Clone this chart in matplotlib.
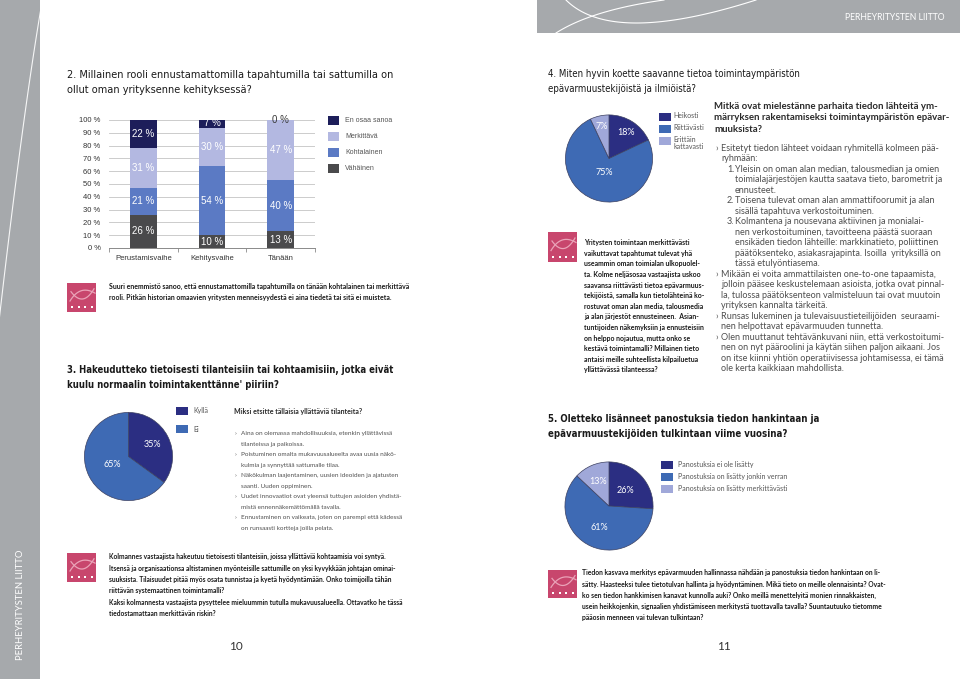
import matplotlib
matplotlib.use('Agg')
import matplotlib.pyplot as plt
from matplotlib import font_manager as fm
from matplotlib.patches import Rectangle
from matplotlib.lines import Line2D
import numpy as np

# ---------------- data ----------------
stages = ['Perustamisvaihe', 'Kehitysvaihe', 'Tänään']
series_names = ['Vähäinen', 'Kohtalainen', 'Merkittävä', 'En osaa sanoa']
vahainen = [26, 10, 13]
kohtalainen = [21, 54, 40]
merkittava = [31, 30, 47]
en_osaa = [22, 7, 0]
y_ticks = [0, 10, 20, 30, 40, 50, 60, 70, 80, 90, 100]

q3_labels = ['Kyllä', 'Ei']
q3_values = [35, 65]

q4_labels = ['Heikosti', 'Riittävästi', 'Erittäin\nkattavasti']
q4_values = [18, 75, 7]

q5_labels = ['Panostuksia ei ole lisätty', 'Panostuksia on lisätty jonkin verran',
             'Panostuksia on lisätty merkittävästi']
q5_values = [26, 61, 13]

# ---------------- texts ----------------
h2 = ['2. Millainen rooli ennustamattomilla tapahtumilla tai sattumilla on',
      'ollut oman yrityksenne kehityksessä?']
cap1 = ['Suuri enemmistö sanoo, että ennustamattomilla tapahtumilla on tänään kohtalainen tai merkittävä',
        'rooli. Pitkän historian omaavien yritysten menneisyydestä ei aina tiedetä tai sitä ei muisteta.']
h3 = ['3. Hakeudutteko tietoisesti tilanteisiin tai kohtaamisiin, jotka eivät',
      "kuulu normaalin toimintakenttänne' piiriin?"]
q3_question = 'Miksi etsitte tällaisia yllättäviä tilanteita?'
q3_bullets = [('›', 'Aina on olemassa mahdollisuuksia, etenkin yllättävissä'),
              ('', 'tilanteissa ja paikoissa.'),
              ('›', 'Poistuminen omalta mukavuusalueelta avaa uusia näkö-'),
              ('', 'kulmia ja synnyttää sattumalle tilaa.'),
              ('›', 'Näkökulman laajentaminen, uusien ideoiden ja ajatusten'),
              ('', 'saanti. Uuden oppiminen.'),
              ('›', 'Uudet innovaatiot ovat yleensä tuttujen asioiden yhdistä-'),
              ('', 'mistä ennennäkemättömällä tavalla.'),
              ('›', 'Ennustaminen on vaikeata, joten on parempi että kädessä'),
              ('', 'on runsaasti kortteja joilla pelata.')]
cap2 = ['Kolmannes vastaajista hakeutuu tietoisesti tilanteisiin, joissa yllättäviä kohtaamisia voi syntyä.',
        'Itsensä ja organisaationsa altistaminen myönteisille sattumille on yksi kyvykkään johtajan ominai-',
        'suuksista. Tilaisuudet pitää myös osata tunnistaa ja kyetä hyödyntämään. Onko toimijoilla tähän',
        'riittävän systemaattinen toimintamalli?',
        'Kaksi kolmannesta vastaajista pysyttelee mieluummin tutulla mukavuusalueella. Ottavatko he tässä',
        'tiedostamattaan merkittävän riskin?']
h4 = ['4. Miten hyvin koette saavanne tietoa toimintaympäristön',
      'epävarmuustekijöistä ja ilmiöistä?']
q4_question = ['Mitkä ovat mielestänne parhaita tiedon lähteitä ym-',
               'märryksen rakentamiseksi toimintaympäristön epävar-',
               'muuksista?']
q4_bullets = [('b', '›', 'Esitetyt tiedon lähteet voidaan ryhmitellä kolmeen pää-'),
              ('c', '', 'ryhmään:'),
              ('n', '1.', 'Yleisin on oman alan median, talousmedian ja omien'),
              ('nc', '', 'toimialajärjestöjen kautta saatava tieto, barometrit ja'),
              ('nc', '', 'ennusteet.'),
              ('n', '2.', 'Toisena tulevat oman alan ammattifoorumit ja alan'),
              ('nc', '', 'sisällä tapahtuva verkostoituminen.'),
              ('n', '3.', 'Kolmantena ja nousevana aktiivinen ja monialai-'),
              ('nc', '', 'nen verkostoituminen, tavoitteena päästä suoraan'),
              ('nc', '', 'ensikäden tiedon lähteille: markkinatieto, poliittinen'),
              ('nc', '', 'päätöksenteko, asiakasrajapinta. Isoilla  yrityksillä on'),
              ('nc', '', 'tässä etulyöntiasema.'),
              ('b', '›', 'Mikään ei voita ammattilaisten one-to-one tapaamista,'),
              ('c', '', 'jolloin pääsee keskustelemaan asioista, jotka ovat pinnal-'),
              ('c', '', 'la, tulossa päätöksenteon valmisteluun tai ovat muutoin'),
              ('c', '', 'yrityksen kannalta tärkeitä.'),
              ('b', '›', 'Runsas lukeminen ja tulevaisuustieteilijöiden  seuraami-'),
              ('c', '', 'nen helpottavat epävarmuuden tunnetta.'),
              ('b', '›', 'Olen muuttanut tehtävänkuvani niin, että verkostoitumi-'),
              ('c', '', 'nen on nyt pääroolini ja käytän siihen paljon aikaani. Jos'),
              ('c', '', 'on itse kiinni yhtiön operatiivisessa johtamisessa, ei tämä'),
              ('c', '', 'ole kerta kaikkiaan mahdollista.')]
cap3 = ['Yritysten toimintaan merkittävästi',
        'vaikuttavat tapahtumat tulevat yhä',
        'useammin oman toimialan ulkopuolel-',
        'ta. Kolme neljäsosaa vastaajista uskoo',
        'saavansa riittävästi tietoa epävarmuus-',
        'tekijöistä, samalla kun tietolähteinä ko-',
        'rostuvat oman alan media, talousmedia',
        'ja alan järjestöt ennusteineen.  Asian-',
        'tuntijoiden näkemyksiin ja ennusteisiin',
        'on helppo nojautua, mutta onko se',
        'kestävä toimintamalli? Millainen tieto',
        'antaisi meille suhteellista kilpailuetua',
        'yllättävässä tilanteessa?']
h5 = ['5. Oletteko lisänneet panostuksia tiedon hankintaan ja',
      'epävarmuustekijöiden tulkintaan viime vuosina?']
cap4 = ['Tiedon kasvava merkitys epävarmuuden hallinnassa nähdään ja panostuksia tiedon hankintaan on li-',
        'sätty. Haasteeksi tulee tietotulvan hallinta ja hyödyntäminen. Mikä tieto on meille olennaisinta? Ovat-',
        'ko sen tiedon hankkimisen kanavat kunnolla auki? Onko meillä menettelyitä monien rinnakkaisten,',
        'usein heikkojenkin, signaalien yhdistämiseen merkitystä tuottavalla tavalla? Suuntautuuko tietomme',
        'pääosin menneen vai tulevan tulkintaan?']

# ---------------- fonts ----------------
names = {f.name for f in fm.fontManager.ttflist}
if 'Liberation Sans Narrow' in names:
    COND = dict(family='Liberation Sans Narrow')
elif any(f.name == 'DejaVu Sans' and 'ondensed' in f.fname for f in fm.fontManager.ttflist):
    COND = dict(family='DejaVu Sans', fontstretch='condensed')
else:
    COND = dict(family='Liberation Sans')
BODY = 'Lato' if 'Lato' in names else 'DejaVu Sans'
ARIAL = 'Liberation Sans' if 'Liberation Sans' in names else 'DejaVu Sans'

# ---------------- colours ----------------
GRAY_BG = '#a6a9ac'
PINK = '#c8466d'
NAVY = '#2b2e82'
BLUE = '#3e6ab4'
LIGHT = '#a0a8d9'
TEXT_GRAY = '#4f4f4f'
bar_colors = ['#4a4a4c', '#5b7ac4', '#b3b8e1', '#1d1e5a']

# ---------------- figure ----------------
W, H, DPI = 960, 679, 100
fig = plt.figure(figsize=(W / DPI, H / DPI), dpi=DPI)
fig.patch.set_facecolor('white')
R = fig.canvas.get_renderer()


def rect_px(x, y, w, h):
    return [x / W, 1 - (y + h) / H, w / W, h / H]


def box(x, y, w, h, color, z=0):
    fig.add_artist(Rectangle((x / W, 1 - (y + h) / H), w / W, h / H,
                             transform=fig.transFigure, facecolor=color,
                             edgecolor='none', zorder=z))


def curve(p0, p1, p2, color='white', lw=0.8, alpha=1.0, z=1):
    t = np.linspace(0, 1, 80)
    xs = (1 - t) ** 2 * p0[0] + 2 * (1 - t) * t * p1[0] + t ** 2 * p2[0]
    ys = (1 - t) ** 2 * p0[1] + 2 * (1 - t) * t * p1[1] + t ** 2 * p2[1]
    fig.add_artist(Line2D(xs / W, 1 - ys / H, transform=fig.transFigure,
                          color=color, lw=lw, alpha=alpha, zorder=z))


def block(xs, y0, step, lines, right, size, baseline=0.33, **kw):
    if np.isscalar(xs):
        xs = [xs] * len(lines)
    ts = [fig.text(xs[i] / W, 0.5, ln, fontsize=size, ha='left', va='baseline', **kw)
          for i, ln in enumerate(lines)]
    s = size
    if right is not None:
        s = min(size * (right - xs[i]) / t.get_window_extent(R).width
                for i, t in enumerate(ts) if t.get_text().strip())
        for t in ts:
            t.set_fontsize(s)
    em = s * DPI / 72
    for i, t in enumerate(ts):
        t.set_y(1 - (y0 + i * step + baseline * em) / H)
    return s


def logo(x, y, w=29, h=29):
    box(x, y, w, h, PINK, z=2)
    curve((x + 3, y + h * 0.62), (x + w * 0.45, y + h * 0.05), (x + w - 1, y + h * 0.35),
          color='#eaa3b8', lw=0.9, z=3)
    curve((x + 4, y + h * 0.30), (x + w * 0.55, y + h * 0.85), (x + w - 2, y + h * 0.20),
          color='#eaa3b8', lw=0.9, z=3)
    for i in range(4):
        box(x + 4 + i * 6.5, y + h - 6, 2, 2, 'white', z=3)


# ---------------- page decoration ----------------
box(0, 0, 40, H, GRAY_BG)
curve((41, 8), (22, 120), (-2, 330), lw=0.8, alpha=0.9)
t = fig.text(21 / W, 1 - 605 / H, 'PERHEYRITYSTEN LIITTO', rotation=90, ha='center',
             va='center', color='white', fontsize=6.5, family=BODY)
t.set_fontsize(6.5 * 110 / t.get_window_extent(R).height)

box(537, 0, W - 537, 33, GRAY_BG)
curve((566, 0), (612, 46), (756, 0), lw=0.8)
curve((556, 33), (592, 10), (664, 0), lw=0.8)
t = fig.text(945 / W, 1 - 18 / H, 'PERHEYRITYSTEN LIITTO', ha='right', va='center',
             color='white', fontsize=7, family=BODY)
t.set_fontsize(7 * 100 / t.get_window_extent(R).width)

# ---------------- headings ----------------
block(67, 74, 15, h2, 392, 9, color='#1a1a1a', **COND)
block(67, 370, 15, h3, 390, 10, color='#1a1a1a', fontweight='bold', **COND)
block(548, 74, 15, h4, 802, 9, color='#1a1a1a', **COND)
block(548, 419, 15, h5, 814, 10, color='#1a1a1a', fontweight='bold', **COND)

# ---------------- chart 2: stacked bars ----------------
ax = fig.add_axes(rect_px(109, 120, 206, 128))
xpos = np.arange(len(stages))
bottom = np.zeros(len(stages))
for vals, col in zip([vahainen, kohtalainen, merkittava, en_osaa], bar_colors):
    vals = np.array(vals, dtype=float)
    ax.bar(xpos, vals, 0.39, bottom=bottom, color=col, zorder=3)
    for xi, v, b in zip(xpos, vals, bottom):
        ax.text(xi, b + v / 2, f'{int(v)} %', ha='center', va='center',
                color='white' if v > 0 else '#3a3a3a', fontsize=7, family=ARIAL,
                zorder=4, clip_on=False)
    bottom += vals
ax.set_xlim(-0.5, len(stages) - 0.5)
ax.set_ylim(0, 100)
ax.set_yticks(y_ticks)
ax.set_yticklabels([f'{v} %' for v in y_ticks])
ax.yaxis.grid(True, color='#c4c4c4', lw=0.6)
ax.set_axisbelow(True)
for s in ['left', 'top', 'right']:
    ax.spines[s].set_visible(False)
ax.spines['bottom'].set_color('#8a8a8a')
ax.spines['bottom'].set_linewidth(0.7)
ax.set_xticks(xpos)
ax.set_xticklabels(stages)
ax.set_xticks(np.arange(len(stages) + 1) - 0.5, minor=True)
ax.tick_params(axis='x', which='major', length=0, pad=5, labelsize=5.5, labelcolor='#333333')
ax.tick_params(axis='x', which='minor', length=3, color='#8a8a8a', width=0.6)
ax.tick_params(axis='y', length=0, pad=6, labelsize=5.5, labelcolor='#333333')
for lab in ax.get_xticklabels() + ax.get_yticklabels():
    lab.set_family(ARIAL)

for i, (name, col) in enumerate(zip(series_names[::-1], bar_colors[::-1])):
    yy = 120 + 16 * i
    box(328, yy - 4.5, 11, 9, col)
    fig.text(345 / W, 1 - yy / H, name, ha='left', va='center', fontsize=5,
             color='#555555', family=ARIAL)

logo(67, 283)
block(109, 287, 11, cap1, 408, 6, color='#1a1a1a', fontweight='bold', family=BODY)


# ---------------- pies ----------------
def pie_at(cx, cy, r, values, colors, dists, fs=6.5):
    a = fig.add_axes(rect_px(cx - r, cy - r, 2 * r, 2 * r))
    wedges, _ = a.pie(values, colors=colors, startangle=90, counterclock=False,
                      radius=1, wedgeprops=dict(edgecolor='#3c4060', linewidth=0.5))
    for w, v, d in zip(wedges, values, dists):
        ang = np.deg2rad((w.theta1 + w.theta2) / 2)
        a.text(d * np.cos(ang), d * np.sin(ang), f'{v}%', ha='center', va='center',
               color='white', fontsize=fs, family=BODY)
    a.set_xlim(-1.01, 1.01)
    a.set_ylim(-1.01, 1.01)
    a.axis('off')
    return a


# question 3
pie_at(128.5, 456.5, 44.5, q3_values, [NAVY, BLUE], [0.6, 0.42])
for yy, lab, col in zip([411, 429], q3_labels, [NAVY, BLUE]):
    box(176, yy - 4, 12, 8, col)
    fig.text(193 / W, 1 - yy / H, lab, ha='left', va='center', fontsize=5,
             color='#555555', family=BODY)

block(234, 412, 11, [q3_question], 362, 6, color='#2a2a2a', fontweight='bold', family=BODY)
s = block(241, 433, 10.5, [b[1] for b in q3_bullets], 402, 5.5, color=TEXT_GRAY, family=BODY)
for i, (m, _) in enumerate(q3_bullets):
    if m:
        fig.text(234.5 / W, 1 - (433 + i * 10.5 + 0.33 * s * DPI / 72) / H, m, ha='left',
                 va='baseline', fontsize=s, color=TEXT_GRAY, family=BODY)

logo(67, 553)
block(109, 557, 11.4, cap2, 402, 6, color='#1a1a1a', fontweight='bold', family=BODY)
fig.text(236 / W, 1 - 647 / H, '10', ha='center', va='center', fontsize=8.5,
         color='#333333', family=BODY)

# question 4
pie_at(609, 158.5, 44, q4_values, [NAVY, BLUE, LIGHT], [0.72, 0.35, 0.76])
for yy, lab, col in zip([117, 129, 141], q4_labels, [NAVY, BLUE, LIGHT]):
    box(659, yy - 4, 12, 8, col)
    fig.text(673 / W, 1 - (yy - 4.5) / H, lab, ha='left', va='top', fontsize=5,
             color='#555555', family=BODY, linespacing=0.95)

block(714, 106, 11.2, q4_question, 947, 6, color='#2a2a2a', fontweight='bold', family=BODY)
xs_b = []
for kind, m, txt in q4_bullets:
    xs_b.append(735 if kind in ('n', 'nc') else 721)
s = block(xs_b, 148, 10.48, [b[2] for b in q4_bullets], 946, 5.5, color=TEXT_GRAY, family=BODY)
for i, (kind, m, _) in enumerate(q4_bullets):
    if m:
        fig.text((715 if kind == 'b' else 727) / W,
                 1 - (148 + i * 10.48 + 0.33 * s * DPI / 72) / H, m, ha='left',
                 va='baseline', fontsize=s, color=TEXT_GRAY, family=BODY)

logo(548, 232, 29, 30)
block(584, 243, 10.6, cap3, 704, 6, color='#1a1a1a', fontweight='bold', family=BODY)

# question 5
pie_at(609, 506, 44.5, q5_values, [NAVY, BLUE, LIGHT], [0.52, 0.53, 0.6])
for yy, lab, col in zip([465, 477, 489], q5_labels, [NAVY, BLUE, LIGHT]):
    box(661, yy - 4, 12, 8, col)
    fig.text(678 / W, 1 - yy / H, lab, ha='left', va='center', fontsize=5,
             color='#555555', family=BODY)

logo(548, 570, 29, 28)
block(582, 573, 11.3, cap4, 888, 6, color='#1a1a1a', fontweight='bold', family=BODY)
fig.text(724 / W, 1 - 647 / H, '11', ha='center', va='center', fontsize=8.5,
         color='#333333', family=BODY)

fig.savefig('out.png', dpi=DPI)
